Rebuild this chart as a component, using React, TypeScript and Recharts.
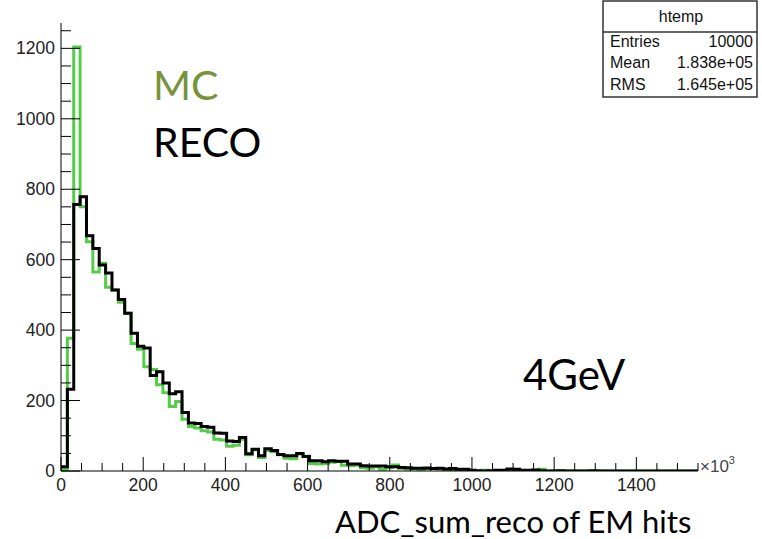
import { LineChart, Line, XAxis, YAxis } from "recharts";

// bin width in units of 10^3 ADC counts, 100 bins
const binWidth = 15.5;

const mcCounts = [
  5, 377, 1204, 750, 651, 565, 590, 522, 514, 479,
  448, 362, 346, 296, 288, 245, 222, 183, 197, 147,
  126, 122, 114, 111, 90, 88, 70, 73, 90, 46,
  60, 38, 58, 55, 46, 36, 35, 48, 42, 21,
  20, 21, 25, 27, 16, 15, 17, 9, 8, 12,
  5, 10, 17, 8, 6, 7, 3, 9, 7, 6,
  5, 4, 3, 4, 1, 0, 2, 1, 0, 1,
  2, 3, 1, 1, 2, 5, 0, 1, 0, 0,
  1, 0, 0, 0, 1, 0, 0, 0, 0, 0,
  0, 0, 0, 0, 0, 0, 0, 0, 0, 0,
];

const recoCounts = [
  12, 232, 757, 779, 668, 632, 585, 562, 514, 487,
  448, 391, 354, 349, 271, 282, 250, 219, 225, 166,
  136, 135, 126, 124, 108, 107, 85, 84, 95, 49,
  62, 43, 63, 58, 47, 43, 43, 50, 41, 29,
  29, 26, 29, 28, 28, 20, 20, 15, 14, 14,
  14, 12, 12, 10, 9, 8, 8, 8, 7, 8,
  6, 7, 5, 5, 2, 1, 0, 1, 2, 2,
  6, 5, 2, 2, 3, 1, 0, 0, 1, 0,
  0, 0, 0, 1, 0, 0, 0, 0, 0, 0,
  0, 0, 0, 0, 0, 0, 0, 0, 0, 0,
];

const xMajor = [0, 200, 400, 600, 800, 1000, 1200, 1400];
const yMajor = [0, 200, 400, 600, 800, 1000, 1200];
const xMax = 1550;
const yMax = 1272;
const minorStep = 50;

const xTicks = Array.from({ length: Math.floor(xMax / minorStep) + 1 }, (_, i) => i * minorStep);
const yTicks = Array.from({ length: Math.floor(yMax / minorStep) + 1 }, (_, i) => i * minorStep);

const data = mcCounts.map((mc, i) => ({ x: i * binWidth, mc, reco: recoCounts[i] }));
data.push({ x: mcCounts.length * binWidth, mc: 0, reco: 0 });

const axisFont = '"Liberation Sans", Arial, sans-serif';
const textFont = 'Lato, "Open Sans", sans-serif';

function XTick(props: any) {
  const { x, y, payload } = props;
  const v = payload.value;
  const major = xMajor.includes(v);
  return (
    <g>
      <line x1={x} x2={x} y1={y} y2={y - (major ? 14 : 8)} stroke="#000" strokeWidth={1} />
      {major && (
        <text x={x} y={y + 20} textAnchor="middle" fontSize={17.5} fontFamily={axisFont} fill="#222">
          {v}
        </text>
      )}
    </g>
  );
}

function YTick(props: any) {
  const { x, y, payload } = props;
  const v = payload.value;
  const major = yMajor.includes(v);
  return (
    <g>
      <line x1={x} x2={x + (major ? 19 : 10)} y1={y} y2={y} stroke="#000" strokeWidth={1} />
      {major && (
        <text x={x - 6} y={y + 6} textAnchor="end" fontSize={17.5} fontFamily={axisFont} fill="#222">
          {v}
        </text>
      )}
    </g>
  );
}

export default function App() {
  return (
    <div style={{ position: "absolute", left: 0, top: 0, width: 762, height: 539, background: "#fff" }}>
      <LineChart width={762} height={539} data={data} margin={{ top: 23, right: 64, bottom: 0, left: 0 }}>
        <XAxis
          dataKey="x"
          type="number"
          domain={[0, xMax]}
          ticks={xTicks}
          interval={0}
          height={68}
          tickSize={0}
          tickMargin={0}
          tickLine={false}
          tick={<XTick />}
          axisLine={{ stroke: "#000", strokeWidth: 1 }}
          allowDataOverflow
        />
        <XAxis
          xAxisId="top"
          orientation="top"
          dataKey="x"
          type="number"
          domain={[0, xMax]}
          ticks={[]}
          height={0}
          tick={false}
          tickLine={false}
          axisLine={{ stroke: "#000", strokeWidth: 1 }}
        />
        <YAxis
          type="number"
          domain={[0, yMax]}
          ticks={yTicks}
          interval={0}
          width={61}
          tickSize={0}
          tickMargin={0}
          tickLine={false}
          tick={<YTick />}
          axisLine={{ stroke: "#000", strokeWidth: 1 }}
          allowDataOverflow
        />
        <YAxis
          yAxisId="right"
          orientation="right"
          type="number"
          domain={[0, yMax]}
          ticks={[]}
          width={0}
          tick={false}
          tickLine={false}
          axisLine={{ stroke: "#000", strokeWidth: 1 }}
        />
        <Line
          type="stepAfter"
          dataKey="mc"
          stroke="#55cc4a"
          strokeWidth={3}
          dot={false}
          activeDot={false}
          isAnimationActive={false}
        />
        <Line
          type="stepAfter"
          dataKey="reco"
          stroke="#000"
          strokeWidth={3}
          dot={false}
          activeDot={false}
          isAnimationActive={false}
        />
      </LineChart>
      <svg
        width={762}
        height={539}
        style={{ position: "absolute", left: 0, top: 0, pointerEvents: "none" }}
      >
        <text x={153} y={100} fontSize={41} fontFamily={textFont} fill="#77933c">MC</text>
        <text x={153} y={157} fontSize={41} fontFamily={textFont} fill="#000">RECO</text>
        <text x={523} y={390} fontSize={42} fontFamily={textFont} fill="#000">4GeV</text>
        <text x={335} y={533} fontSize={31} fontFamily={textFont} fill="#000">ADC_sum_reco of EM hits</text>
        <text x={700} y={472} fontSize={17} fontFamily={axisFont} fill="#444">
          ×10<tspan dy={-8} fontSize={11}>3</tspan>
        </text>

        <rect x={603} y={1} width={154} height={96} fill="#fff" stroke="#333" strokeWidth={1.5} />
        <line x1={603} x2={757} y1={32} y2={32} stroke="#333" strokeWidth={1.5} />
        <text x={681} y={22} textAnchor="middle" fontSize={16} fontFamily={axisFont} fill="#111">htemp</text>
        <text x={610} y={47} fontSize={16} fontFamily={axisFont} fill="#111">Entries</text>
        <text x={753} y={47} textAnchor="end" fontSize={16} fontFamily={axisFont} fill="#111">10000</text>
        <text x={610} y={68} fontSize={16} fontFamily={axisFont} fill="#111">Mean</text>
        <text x={753} y={68} textAnchor="end" fontSize={16} fontFamily={axisFont} fill="#111">1.838e+05</text>
        <text x={610} y={90} fontSize={16} fontFamily={axisFont} fill="#111">RMS</text>
        <text x={753} y={90} textAnchor="end" fontSize={16} fontFamily={axisFont} fill="#111">1.645e+05</text>
      </svg>
    </div>
  );
}
